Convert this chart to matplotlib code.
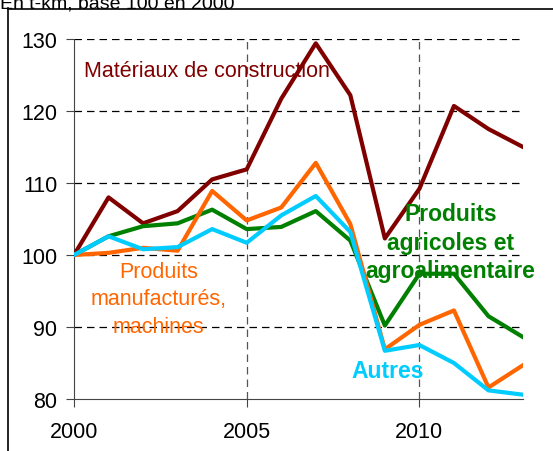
import matplotlib
matplotlib.use("Agg")
import matplotlib.pyplot as plt

plt.rcParams['font.family'] = ['Liberation Sans', 'DejaVu Sans']

years = list(range(2000, 2014))
materiaux = [100, 108.0, 104.4, 106.1, 110.5, 111.9, 121.7, 129.4, 122.2, 102.3, 109.2, 120.7, 117.5, 115.0]
manufactures = [100, 100.3, 101.0, 100.6, 108.9, 104.8, 106.6, 112.8, 104.3, 86.9, 90.3, 92.3, 81.6, 84.7]
agricoles = [100, 102.6, 104.0, 104.4, 106.3, 103.6, 103.9, 106.1, 102.0, 90.2, 97.4, 97.4, 91.5, 88.6]
autres = [100, 102.6, 100.8, 101.1, 103.6, 101.7, 105.5, 108.2, 103.2, 86.7, 87.5, 85.0, 81.2, 80.6]

y_ticks = [80, 90, 100, 110, 120, 130]
x_ticks = [2000, 2005, 2010]

fig = plt.figure(figsize=(5.53, 4.52), dpi=100)
ax = fig.add_axes([0.1338, 0.115, 0.812, 0.7965])

# outer frame (only top and left visible)
fig.add_artist(plt.Line2D([8 / 553, 8 / 553], [0, 1 - 9 / 452], color='black', lw=1.2))
fig.add_artist(plt.Line2D([8 / 553, 1], [1 - 10 / 452, 1 - 10 / 452], color='black', lw=1.2))
fig.text(0.0, 1.01, "En t-km, base 100 en 2000", fontsize=14, va='top', ha='left')

# grid
for v in y_ticks[1:]:
    ax.axhline(v, color='black', lw=0.9, ls=(0, (6, 4)), zorder=1)
for v in x_ticks[1:]:
    ax.axvline(v, color='#555555', lw=0.9, ls=(0, (6, 4)), zorder=1)

ax.plot(years, materiaux, color='#800000', lw=3, zorder=3)
ax.plot(years, agricoles, color='#008000', lw=3, zorder=3)
ax.plot(years, manufactures, color='#FF6600', lw=3, zorder=3)
ax.plot(years, autres, color='#00CCFF', lw=3, zorder=3)

ax.text(2003.85, 125.6, "Matériaux de construction", color='#800000', fontsize=15.5,
        ha='center', va='center')
ax.text(2002.45, 93.9, "Produits\nmanufacturés,\nmachines", color='#FF6600', fontsize=15.5,
        ha='center', va='center', linespacing=1.4)
ax.text(2010.9, 101.8, "Produits\nagricoles et\nagroalimentaire", color='#008000', fontsize=16.5,
        fontweight='bold', ha='center', va='center', linespacing=1.3)
ax.text(2009.08, 84.0, "Autres", color='#00CCFF', fontsize=16.5, fontweight='bold',
        ha='center', va='center')

ax.set_xlim(2000, 2013)
ax.set_ylim(80, 130)
ax.set_xticks(x_ticks)
ax.set_yticks(y_ticks)
ax.spines['top'].set_visible(False)
ax.spines['right'].set_visible(False)
ax.spines['left'].set_color('#444444')
ax.spines['bottom'].set_color('#444444')
ax.tick_params(axis='y', direction='out', length=6, pad=6, labelsize=15.5, color='#444444')
ax.tick_params(axis='x', direction='out', length=6, pad=10, labelsize=15.5, color='#444444')

fig.savefig("out.png", dpi=100)
